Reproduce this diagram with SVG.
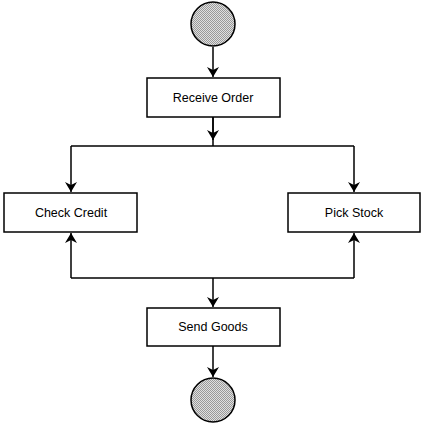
<svg xmlns="http://www.w3.org/2000/svg" width="425" height="424" viewBox="0 0 425 424">
<defs>
<pattern id="dots" width="2" height="2" patternUnits="userSpaceOnUse"><rect width="2" height="2" fill="#e0e0e0"/><rect width="1" height="1" fill="#999"/><rect x="1" y="1" width="1" height="1" fill="#999"/></pattern>
<marker id="a" markerWidth="10" markerHeight="12" refX="10" refY="6" orient="auto" markerUnits="userSpaceOnUse"><path d="M0,0 L10,6 L0,12 L3,6 Z" fill="#000"/></marker>
</defs>
<style>
.n rect{fill:#fff;stroke:#000;stroke-width:1.5}
.n circle{fill:url(#dots);stroke:#000;stroke-width:1.5}
text{font-family:"Liberation Sans",Arial,sans-serif;font-size:12.5px;text-anchor:middle}
#c path{fill:none;stroke:#000;stroke-width:1.5}
</style>
<g id="c">
<path d="M213,47 V77" marker-end="url(#a)"/>
<path d="M213,117 V146"/>
<path d="M71,146 H354"/>
<path d="M71,146 V192" marker-end="url(#a)"/>
<path d="M354,146 V192" marker-end="url(#a)"/>
<path d="M71,278 H354"/>
<path d="M71,278 V233" marker-end="url(#a)"/>
<path d="M354,278 V233" marker-end="url(#a)"/>
<path d="M213,278 V307" marker-end="url(#a)"/>
<path d="M213,346 V377" marker-end="url(#a)"/>
<path d="M213,117 V140" marker-end="url(#a)"/>
</g>
<g id="start" class="n"><circle cx="213" cy="24" r="22"/></g>
<g id="receive" class="n"><rect x="147" y="78" width="133" height="39"/><text x="213" y="102">Receive Order</text></g>
<g id="credit" class="n"><rect x="4" y="193" width="133" height="39"/><text x="71" y="217">Check Credit</text></g>
<g id="stock" class="n"><rect x="288" y="193" width="132" height="39"/><text x="354" y="217">Pick Stock</text></g>
<g id="send" class="n"><rect x="147" y="308" width="133" height="38"/><text x="213" y="331">Send Goods</text></g>
<g id="end" class="n"><circle cx="213" cy="400" r="22"/></g>
</svg>
